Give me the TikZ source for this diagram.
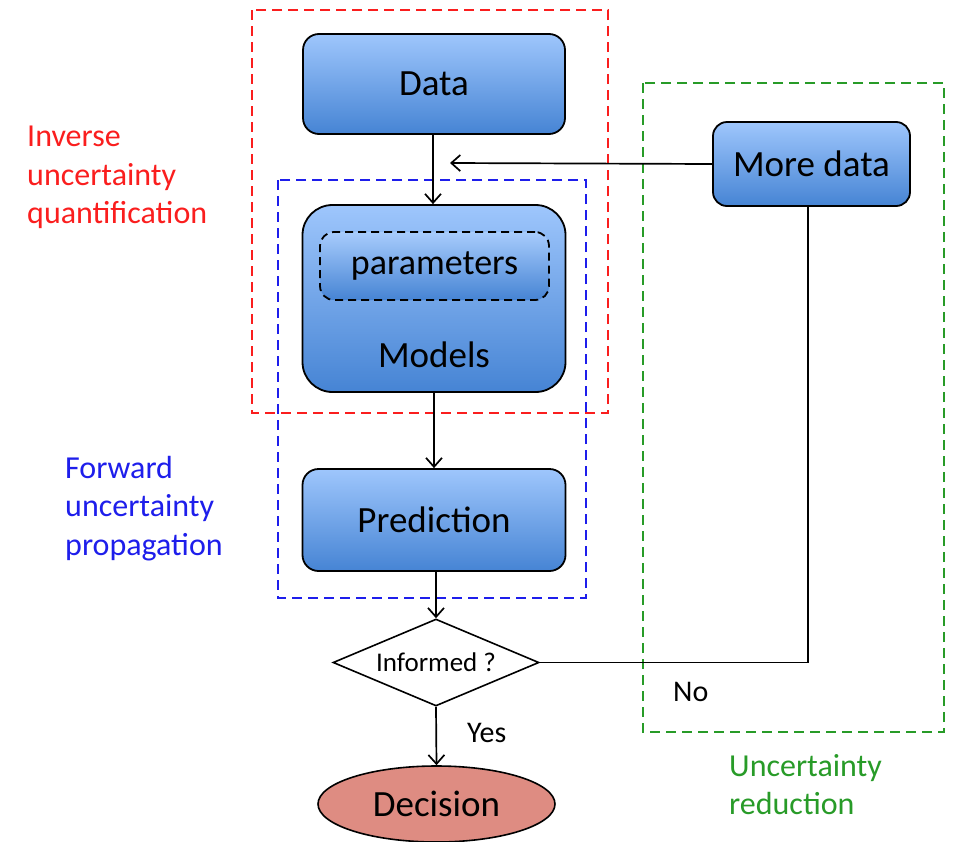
\documentclass[tikz,border=0pt]{standalone}
\usepackage{fontspec}
\setmainfont{Carlito}
\usetikzlibrary{arrows.meta,shapes.geometric,positioning}
\definecolor{boxtop}{RGB}{158,198,252}
\definecolor{boxbot}{RGB}{70,132,212}
\definecolor{decfill}{RGB}{222,140,130}
\definecolor{invred}{RGB}{250,30,30}
\definecolor{fwdblue}{RGB}{30,30,235}
\definecolor{redgreen}{RGB}{40,155,40}
\tikzset{
  bluebox/.style={draw=black, line width=1.8pt, top color=boxtop, bottom color=boxbot,
    rounded corners=16pt, inner sep=0pt, font=\fontsize{37}{42}\selectfont},
  regionbox/.style={line width=1.8pt, dash pattern=on 10pt off 6pt},
  flow/.style={line width=1.7pt, -{Straight Barb[length=9pt,width=16pt,line width=1.7pt]}},
  plain/.style={line width=1.7pt},
  sidelabel/.style={align=left, anchor=north west, inner sep=0pt,
    font=\fontsize{32}{38.5}\selectfont},
  smalltext/.style={font=\fontsize{30}{34}\selectfont, inner sep=0pt}
}
\begin{document}
\begin{tikzpicture}[x=1pt,y=-1pt]
\useasboundingbox (0,0) rectangle (953,841);

% dashed regions
\draw[regionbox, invred] (252,10) rectangle (608,413);
\draw[regionbox, fwdblue] (278,180) rectangle (586,598);
\draw[regionbox, redgreen] (643,83) rectangle (944,732);

% main blocks
\node[bluebox, minimum width=262pt, minimum height=100pt] (data) at (434,84) {Data};
\node[bluebox, rounded corners=30pt, minimum width=263pt, minimum height=187pt] (models) at (434,298.5) {};
\node[draw=black, line width=1.8pt, dash pattern=on 8pt off 5pt, rounded corners=14pt,
  top color=boxtop!90!white, bottom color=boxbot, minimum width=229pt, minimum height=68pt,
  inner sep=0pt, font=\fontsize{36}{40}\selectfont] (params) at (434.5,266) {parameters};
\node[font=\fontsize{37}{42}\selectfont, inner sep=0pt] (modlabel) at (434,355) {Models};
\node[bluebox, minimum width=263pt, minimum height=102pt] (pred) at (434,520) {Prediction};
\node[bluebox, rounded corners=14pt, minimum width=197pt, minimum height=84pt] (more) at (811.5,164) {More data};

% decision diamond and outcome
\node[draw=black, line width=1.6pt, diamond, aspect=2.37, fill=white, inner sep=0pt,
  minimum width=206pt, minimum height=87pt, font=\fontsize{27}{30}\selectfont] (inf) at (436,662.5) {Informed ?};
\node[draw=black, line width=1.6pt, ellipse, fill=decfill, minimum width=237pt, minimum height=76pt,
  inner sep=0pt, font=\fontsize{37}{42}\selectfont] (dec) at (436.5,804) {Decision};

% connectors
\coordinate (join) at (450,163);
\draw[flow] (data.south -| 433,0) -- (models.north -| 433,0);
\draw[flow] (more.west) -- (join);
\draw[flow] (models.south) -- (pred.north);
\draw[flow] (pred.south -| inf.north) -- (inf.north);
\draw[flow] (inf.south) -- (dec.north);
\draw[plain] (inf.east) -- (inf.east -| 808,0) -- (more.south -| 808,0);

% branch labels
\node[smalltext, anchor=west] (no) at (673,692) {No};
\node[smalltext, anchor=west] (yes) at (467,733) {Yes};

% region captions
\node[sidelabel, text=invred] (invlab) at (27,126) {Inverse\\uncertainty\\quantification};
\node[sidelabel, text=fwdblue] (fwdlab) at (65,456) {Forward\\uncertainty\\propagation};
\node[sidelabel, text=redgreen] (redlab) at (729,754) {Uncertainty\\reduction};
\end{tikzpicture}
\end{document}
